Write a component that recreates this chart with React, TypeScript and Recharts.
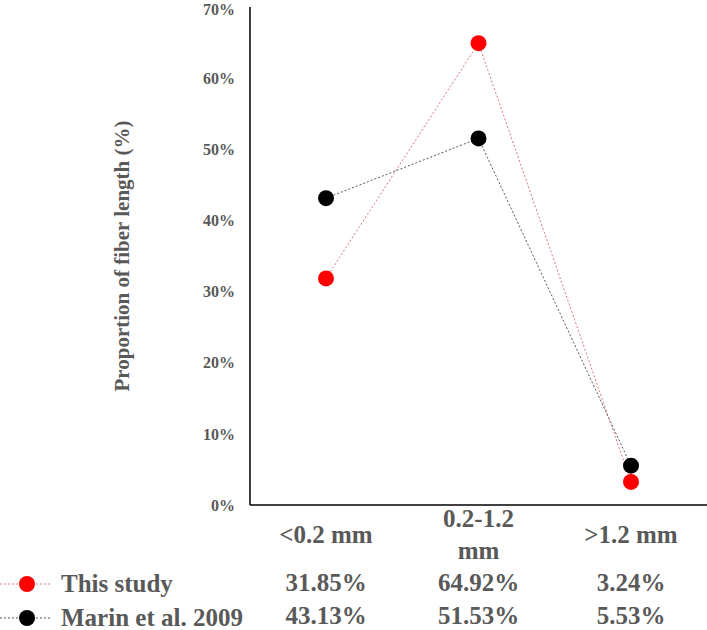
import { LineChart, Line, XAxis, YAxis } from "recharts";

document.body.style.margin = "0";

const categories = ["<0.2 mm", "0.2-1.2 mm", ">1.2 mm"];
const thisStudy = [31.85, 64.92, 3.24];
const marin = [43.13, 51.53, 5.53];
const yTicks = [0, 10, 20, 30, 40, 50, 60, 70];

const seriesNames = ["This study", "Marin et al. 2009"];
const seriesColors = ["#ff0000", "#000000"];
const lineColors = ["#d9787a", "#555555"];

const FONT = "'Liberation Serif', 'Times New Roman', serif";
const GRAY = "#595959";

const chartData = categories.map((c, i) => ({
  cat: c,
  thisStudy: thisStudy[i],
  marin: marin[i],
}));

// Excel-style wrap: long labels break at the last space
function wrapLabel(s: string): string[] {
  if (s.length <= 8) return [s];
  const k = s.lastIndexOf(" ");
  return k > 0 ? [s.slice(0, k), s.slice(k + 1)] : [s];
}

function TableTick(props: any) {
  const { x, y, payload } = props;
  const i = payload.index;
  const lines = wrapLabel(payload.value);
  const textProps = {
    textAnchor: "middle" as const,
    fontFamily: FONT,
    fontWeight: "bold",
    fontSize: 25,
    fill: GRAY,
  };
  return (
    <g>
      {lines.length === 1 ? (
        <text x={x} y={y + 38} {...textProps}>
          {lines[0]}
        </text>
      ) : (
        lines.map((l, j) => (
          <text key={j} x={x} y={y + 22 + j * 32} {...textProps}>
            {l}
          </text>
        ))
      )}
      <text x={x} y={y + 86} {...textProps}>
        {thisStudy[i].toFixed(2)}%
      </text>
      <text x={x} y={y + 119} {...textProps}>
        {marin[i].toFixed(2)}%
      </text>
    </g>
  );
}

function RowLabels() {
  const rows = [584, 618];
  return (
    <svg
      width={270}
      height={630}
      style={{ position: "absolute", left: 0, top: 0, pointerEvents: "none" }}
    >
      {rows.map((ry, i) => (
        <g key={i}>
          <line
            x1={0}
            x2={52}
            y1={ry}
            y2={ry}
            stroke={lineColors[i]}
            strokeWidth={1}
            strokeDasharray="2 2"
          />
          <circle cx={27} cy={ry} r={8} fill={seriesColors[i]} />
          <text
            x={61}
            y={ry + 8}
            fontFamily={FONT}
            fontWeight="bold"
            fontSize={25}
            fill={GRAY}
          >
            {seriesNames[i]}
          </text>
        </g>
      ))}
    </svg>
  );
}

export default function App() {
  return (
    <div style={{ position: "relative", width: 707, height: 630 }}>
      <LineChart
        width={707}
        height={630}
        data={chartData}
        margin={{ top: 7, right: 0, bottom: 0, left: 150 }}
      >
        <XAxis
          dataKey="cat"
          height={125}
          tickLine={false}
          tickSize={0}
          tickMargin={0}
          axisLine={{ stroke: "#000", strokeWidth: 1.5 }}
          padding={{ left: 76, right: 76 }}
          interval={0}
          tick={<TableTick />}
        />
        <YAxis
          width={100}
          domain={[0, 70]}
          ticks={yTicks}
          tickFormatter={(v) => `${v}%`}
          tickLine={false}
          tickSize={0}
          tickMargin={15}
          axisLine={{ stroke: "#000", strokeWidth: 1.5 }}
          tick={{ fill: GRAY, fontFamily: FONT, fontWeight: "bold", fontSize: 16 }}
          label={{
            value: "Proportion of fiber length (%)",
            angle: -90,
            position: "insideLeft",
            dx: -33,
            dy: 0,
            style: {
              textAnchor: "middle",
              fill: GRAY,
              fontFamily: FONT,
              fontWeight: "bold",
              fontSize: 21,
            },
          }}
        />
        <Line
          dataKey="marin"
          stroke={lineColors[1]}
          strokeWidth={1}
          strokeDasharray="2 2"
          dot={{ r: 8, fill: seriesColors[1], stroke: "none" }}
          isAnimationActive={false}
        />
        <Line
          dataKey="thisStudy"
          stroke={lineColors[0]}
          strokeWidth={1}
          strokeDasharray="2 2"
          dot={{ r: 8, fill: seriesColors[0], stroke: "none" }}
          isAnimationActive={false}
        />
      </LineChart>
      <RowLabels />
    </div>
  );
}
